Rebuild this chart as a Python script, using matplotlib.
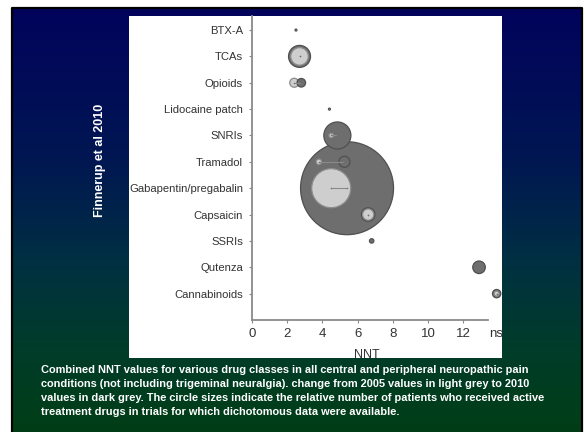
import numpy as np
import matplotlib
matplotlib.use('Agg')
import matplotlib.pyplot as plt
from matplotlib.patches import Rectangle
from matplotlib.colors import LinearSegmentedColormap

plt.rcParams['font.family'] = ['Liberation Sans', 'DejaVu Sans']

# ---------------- data ----------------
categories = ['BTX-A', 'TCAs', 'Opioids', 'Lidocaine patch', 'SNRIs', 'Tramadol',
              'Gabapentin/pregabalin', 'Capsaicin', 'SSRIs', 'Qutenza', 'Cannabinoids']
nnt_2005 = [np.nan, 2.7, 2.4, np.nan, 4.5, 3.8, 4.5, 6.6, np.nan, np.nan, 13.9]
nnt_2010 = [2.5, 2.7, 2.8, 4.4, 4.85, 5.25, 5.4, 6.6, 6.8, 12.9, 13.9]
size_2005 = [0, 160, 42, 0, 10, 15, 790, 65, 0, 0, 13]
size_2010 = [2, 250, 38, 2, 380, 63, 4480, 96, 10, 82, 36]
xtick_values = [0, 2, 4, 6, 8, 10, 12, 13.9]
xtick_labels = ['0', '2', '4', '6', '8', '10', '12', 'ns']
side_title = 'Finnerup et al 2010'
caption = ("Combined NNT values for various drug classes in all central and peripheral neuropathic pain\n"
           "conditions (not including trigeminal neuralgia). change from 2005 values in light grey to 2010\n"
           "values in dark grey. The circle sizes indicate the relative number of patients who received active\n"
           "treatment drugs in trials for which dichotomous data were available.")

W, H = 585, 432
fig = plt.figure(figsize=(W / 100, H / 100), dpi=100)
fig.patch.set_facecolor('white')

# ---------------- slide background ----------------
bg = fig.add_axes([0, 0, 1, 1], zorder=0)
bg.set_xlim(0, W)
bg.set_ylim(H, 0)
bg.axis('off')
cmap = LinearSegmentedColormap.from_list('slide', [
    (0.0, (2/255, 3/255, 92/255)),
    (0.35, (0/255, 22/255, 82/255)),
    (0.6, (0/255, 48/255, 66/255)),
    (0.8, (0/255, 60/255, 42/255)),
    (1.0, (0/255, 62/255, 22/255))])
grad = np.linspace(0, 1, 256).reshape(-1, 1)
bg.imshow(grad, cmap=cmap, extent=[12, 582, 432, 8], aspect='auto', zorder=0)
bg.plot([12, 12, 582, 582], [432, 8, 8, 432], color='black', lw=1.6, zorder=1)
panel = Rectangle((129, 16), 373, 342, facecolor='white', edgecolor='none', zorder=2)
bg.add_patch(panel)

bg.text(100, 160, side_title, rotation=90, color='white', fontsize=9, fontweight='bold',
        ha='center', va='center', zorder=3)
bg.text(41, 365, caption, color='white', fontsize=7.9, fontweight='bold', ha='left', va='top',
        linespacing=1.5, zorder=3)
nnt = bg.text(367, 349, 'NNT', color='#333333', fontsize=9, ha='center', va='top', zorder=3)
nnt.set_clip_path(panel)
nnt.set_clip_on(True)

# ---------------- main chart ----------------
px_per_unit_x = 17.6
px_per_unit_y = 26.36
ax = fig.add_axes([252 / W, 112 / H, 250 / W, 304 / H], zorder=1)
ax.patch.set_alpha(0)
ax.set_xlim(0, 250 / px_per_unit_x)
ax.set_ylim(0, 304 / px_per_unit_y)

n = len(categories)
ypos = np.arange(n, 0, -1)

# connecting lines
for x5, x10, y in zip(nnt_2005, nnt_2010, ypos):
    if not np.isnan(x5) and not np.isnan(x10) and x5 != x10:
        ax.plot([x5, x10], [y, y], color='#8a8a8a', lw=0.8, zorder=4)

# circles, largest first
xs, ys, ss, fc, ec = [], [], [], [], []
for i in range(n):
    if size_2005[i] > 0 and not np.isnan(nnt_2005[i]):
        xs.append(nnt_2005[i]); ys.append(ypos[i]); ss.append(size_2005[i])
        fc.append('#cecece'); ec.append('#8c8c8c')
    if size_2010[i] > 0 and not np.isnan(nnt_2010[i]):
        xs.append(nnt_2010[i]); ys.append(ypos[i]); ss.append(size_2010[i])
        fc.append('#6e6e6e'); ec.append('#505050')
order = np.argsort(-np.array(ss), kind='stable')
ax.scatter(np.array(xs)[order], np.array(ys)[order], s=np.array(ss)[order],
           c=[fc[k] for k in order], edgecolors=[ec[k] for k in order],
           linewidths=0.9, zorder=3, clip_on=False)
ax.scatter(xs, ys, s=1.2, c='#707070', zorder=5, clip_on=False, linewidths=0)

for s in ['top', 'right']:
    ax.spines[s].set_visible(False)
for s in ['left', 'bottom']:
    ax.spines[s].set_color('#8a8a8a')
    ax.spines[s].set_linewidth(1.3)
ax.spines['bottom'].set_bounds(0, 13.4)

ax.set_yticks(ypos)
ax.set_yticklabels(categories)
ax.set_xticks(xtick_values)
ax.set_xticklabels(xtick_labels)
ax.tick_params(axis='y', length=2, width=0.8, color='#8a8a8a', pad=4.5,
               labelsize=8.1, labelcolor='#333333')
ax.tick_params(axis='x', length=2, width=0.8, color='#8a8a8a', pad=4,
               labelsize=9.5, labelcolor='#333333')
ax.xaxis.get_major_ticks()[-1].tick1line.set_visible(False)

fig.savefig('out.png', dpi=100)
